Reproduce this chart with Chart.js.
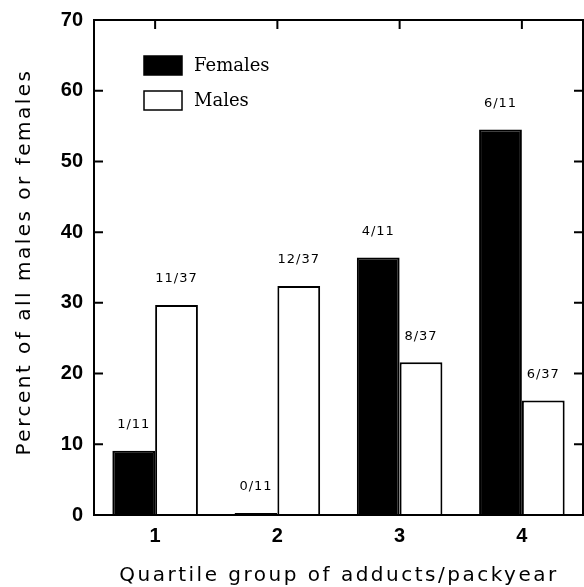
<!DOCTYPE html>
<html>
<head>
<meta charset="utf-8">
<script src="https://cdn.jsdelivr.net/npm/chart.js@4"></script>
<style>
  body { margin: 0; background: #fff; }
  canvas { display: block; }
</style>
</head>
<body>
<canvas id="chart" width="584" height="587"></canvas>
<script>
// values (percent of all males / females)
const categories = ['1', '2', '3', '4'];
const femalesPct = [9.1, 0.3, 36.4, 54.5];
const malesPct = [29.7, 32.4, 21.6, 16.2];
const femaleLabels = ['1/11', '0/11', '4/11', '6/11'];
const maleLabels = ['11/37', '12/37', '8/37', '6/37'];
const yTicks = [0, 10, 20, 30, 40, 50, 60, 70];

const TICK = 9;

// box, inward ticks on three sides, legend, axis titles
const framePlugin = {
    id: 'frame',
    afterDraw(chart) {
        const { ctx, chartArea: a, scales } = chart;
        ctx.save();
        ctx.strokeStyle = '#000';
        ctx.lineWidth = 2;
        ctx.strokeRect(a.left, a.top, a.right - a.left, a.bottom - a.top);

        ctx.beginPath();
        yTicks.forEach(v => {
            const y = scales.y.getPixelForValue(v);
            ctx.moveTo(a.left, y); ctx.lineTo(a.left + TICK, y);
            ctx.moveTo(a.right, y); ctx.lineTo(a.right - TICK, y);
        });
        categories.forEach((c, i) => {
            const x = scales.x.getPixelForValue(i);
            ctx.moveTo(x, a.top); ctx.lineTo(x, a.top + TICK);
        });
        ctx.stroke();

        // legend
        const lx = a.left + 50, ly = a.top + 36;
        chart.data.datasets.forEach((ds, i) => {
            const y = ly + i * 35;
            ctx.fillStyle = ds.backgroundColor;
            ctx.fillRect(lx, y, 38, 19);
            ctx.lineWidth = 1.5;
            ctx.strokeRect(lx, y, 38, 19);
            ctx.fillStyle = '#000';
            ctx.font = '18px "DejaVu Serif"';
            ctx.textAlign = 'left';
            ctx.textBaseline = 'middle';
            ctx.fillText(ds.label, lx + 50, y + 10);
        });

        // axis titles
        ctx.fillStyle = '#000';
        ctx.font = '20px "DejaVu Sans"';
        ctx.letterSpacing = '2.5px';
        ctx.textAlign = 'center';
        ctx.textBaseline = 'middle';
        ctx.fillText('Quartile group of adducts/packyear', 339, 576);
        ctx.translate(25, 262);
        ctx.rotate(-Math.PI / 2);
        ctx.fillText('Percent of all males or females', 0, 0);
        ctx.restore();
    }
};

// n/N counts above each bar
const countsPlugin = {
    id: 'counts',
    afterDatasetsDraw(chart) {
        const { ctx } = chart;
        const sets = [femaleLabels, maleLabels];
        ctx.save();
        ctx.fillStyle = '#000';
        ctx.font = '13px "DejaVu Sans"';
        ctx.letterSpacing = '1px';
        ctx.textAlign = 'center';
        ctx.textBaseline = 'middle';
        sets.forEach((labels, di) => {
            chart.getDatasetMeta(di).data.forEach((bar, i) => {
                ctx.fillText(labels[i], bar.x, bar.y - 26);
            });
        });
        ctx.restore();
    }
};

new Chart(document.getElementById('chart'), {
    type: 'bar',
    data: {
        labels: categories,
        datasets: [
            {
                label: 'Females',
                data: femalesPct,
                backgroundColor: '#000',
                borderColor: '#000',
                borderWidth: 2
            },
            {
                label: 'Males',
                data: malesPct,
                backgroundColor: '#fff',
                borderColor: '#000',
                borderWidth: 2
            }
        ]
    },
    options: {
        responsive: false,
        animation: false,
        devicePixelRatio: 1,
        categoryPercentage: 0.7,
        barPercentage: 1,
        layout: { padding: { top: 20, right: 1, left: 0, bottom: 0 } },
        plugins: {
            legend: { display: false },
            tooltip: { enabled: false }
        },
        scales: {
            x: {
                grid: { display: false },
                border: { display: false },
                ticks: { color: '#000', font: { family: 'Liberation Sans', size: 20, weight: 'bold' }, padding: 1 },
                afterFit(scale) { scale.height = 72; }
            },
            y: {
                min: 0,
                max: 70,
                grid: { display: false },
                border: { display: false },
                ticks: { stepSize: 10, color: '#000', font: { family: 'Liberation Sans', size: 20, weight: 'bold' }, padding: 3 },
                afterFit(scale) { scale.width = 94; }
            }
        }
    },
    plugins: [framePlugin, countsPlugin]
});
</script>
</body>
</html>
